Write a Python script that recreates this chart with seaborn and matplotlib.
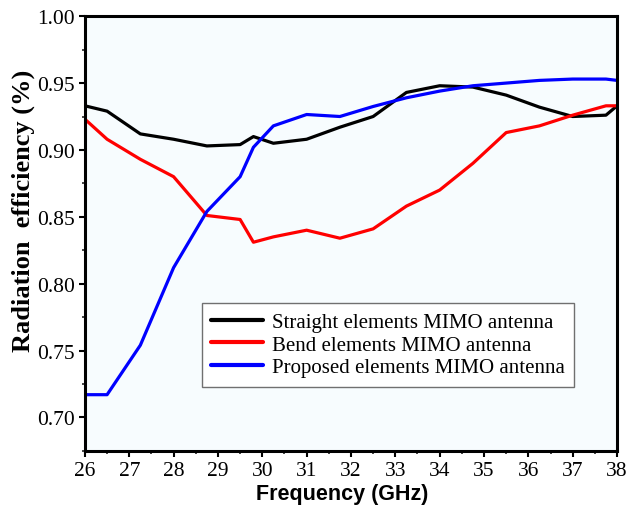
import matplotlib
matplotlib.use("Agg")
import matplotlib.pyplot as plt
from matplotlib.ticker import MultipleLocator, FormatStrFormatter
import numpy as np
import pandas as pd
import seaborn as sns

# Frequency sweep (GHz)
freq = [26.0, 26.5, 27.25, 28.0, 28.75, 29.5, 29.8, 30.25, 31.0, 31.75,
        32.5, 33.25, 34.0, 34.75, 35.5, 36.25, 37.0, 37.75, 38.0]

# Radiation efficiency of each antenna variant
straight = [0.933, 0.929, 0.912, 0.908, 0.903, 0.904, 0.910, 0.905, 0.908, 0.917,
            0.925, 0.943, 0.948, 0.947, 0.941, 0.932, 0.925, 0.926, 0.933]
bend = [0.923, 0.908, 0.893, 0.880, 0.851, 0.848, 0.831, 0.835, 0.840, 0.834,
        0.841, 0.858, 0.870, 0.890, 0.913, 0.918, 0.926, 0.933, 0.933]
proposed = [0.717, 0.717, 0.754, 0.812, 0.854, 0.880, 0.902, 0.918, 0.9265, 0.925,
            0.9325, 0.939, 0.944, 0.948, 0.950, 0.952, 0.953, 0.953, 0.952]

labels = ["Straight elements MIMO antenna",
          "Bend elements MIMO antenna",
          "Proposed elements MIMO antenna"]
colors = ["#000000", "#FF0000", "#0000FF"]

df = pd.concat([
    pd.DataFrame({"freq": freq, "eff": vals, "design": name})
    for name, vals in zip(labels, [straight, bend, proposed])
], ignore_index=True)

sns.set_theme(style="ticks")
plt.rcParams["font.family"] = ["Liberation Serif", "DejaVu Serif"]
plt.rcParams["text.color"] = "black"
plt.rcParams["axes.labelcolor"] = "black"

fig = plt.figure(figsize=(6.29, 5.06), dpi=100)
ax = fig.add_axes([0.135, 0.107, 0.846, 0.859])
ax.set_facecolor("#F7FCFE")

sns.lineplot(data=df, x="freq", y="eff", hue="design", hue_order=labels,
             palette=colors, linewidth=2.3, ax=ax, sort=False, estimator=None)

ax.set_xlim(26, 38)
ax.set_ylim(0.675, 1.0)
ax.xaxis.set_major_locator(MultipleLocator(1))
ax.xaxis.set_minor_locator(MultipleLocator(0.5))
ax.yaxis.set_major_locator(MultipleLocator(0.05))
ax.yaxis.set_minor_locator(MultipleLocator(0.025))
ax.yaxis.set_major_formatter(FormatStrFormatter("%.2f"))

for side in ["left", "right", "top", "bottom"]:
    ax.spines[side].set_visible(True)
    ax.spines[side].set_linewidth(2.2)
    ax.spines[side].set_color("black")

ax.tick_params(axis="both", which="major", direction="out", length=4, width=1.5,
               labelsize=15.5, pad=3, colors="black")
ax.tick_params(axis="both", which="minor", direction="out", length=2.5, width=1.2)
ax.tick_params(top=False, right=False, which="both")

ax.set_xlabel("Frequency (GHz)", fontsize=15.5, fontweight="bold",
              family="Liberation Sans")
ax.xaxis.set_label_coords(0.483, -0.075)
ax.set_ylabel("Radiation  efficiency (%)", fontsize=19, fontweight="bold")
ax.yaxis.set_label_coords(-0.094, 0.555)

leg = ax.legend(loc="upper left", bbox_to_anchor=(0.22, 0.34), borderaxespad=0,
                fontsize=15, frameon=True, fancybox=False, handlelength=2.5,
                handletextpad=0.4, labelspacing=0.15, borderpad=0.45)
leg.get_frame().set_edgecolor("#707070")
leg.get_frame().set_linewidth(1.0)
leg.get_frame().set_facecolor("white")
leg.get_frame().set_alpha(1)
for line in leg.get_lines():
    line.set_linewidth(3.0)

fig.savefig("out.png", dpi=100, facecolor="white")
